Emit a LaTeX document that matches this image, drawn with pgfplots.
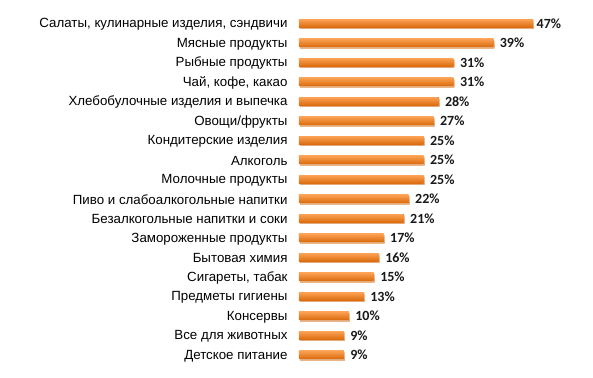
\documentclass[border=0pt]{standalone}
\usepackage{pgfplots}
\pgfplotsset{compat=1.18}
\usepackage{fontspec}
\setmainfont{Liberation Sans}
\newfontfamily\valfont{Carlito}
\definecolor{barTop}{HTML}{FBA052}
\definecolor{barMid}{HTML}{F5801E}
\definecolor{barBot}{HTML}{DA6A0C}
\begin{document}
\begin{tikzpicture}
\useasboundingbox (-299pt,0pt) rectangle (294pt,377pt);
\begin{axis}[
  at={(0,0)}, anchor=south west,
  scale only axis,
  width=289pt, height=376.6pt,
  xbar, bar width=8pt, bar shift=0pt,
  xmin=0, xmax=58,
  ymin=-1.18, ymax=18.13,
  y dir=reverse,
  axis line style={draw=none},
  clip=false,
  ytick={0,...,17},
  yticklabels={{Салаты, кулинарные изделия, сэндвичи},{Мясные продукты},{Рыбные продукты},{Чай, кофе, какао},{Хлебобулочные изделия и выпечка},{Овощи/фрукты},{Кондитерские изделия},{Алкоголь},{Молочные продукты},{Пиво и слабоалкогольные напитки},{Безалкогольные напитки и соки},{Замороженные продукты},{Бытовая химия},{Сигареты, табак},{Предметы гигиены},{Консервы},{Все для животных},{Детское питание}},
  xtick=\empty,
  major tick length=0pt,
  ytick style={draw=none},
  yticklabel style={anchor=east, xshift=-8pt, yshift=-1pt, font=\fontsize{13.3}{15}\selectfont, text=black},
  /pgf/number format/assume math mode=true,
  nodes near coords={\pgfmathprintnumber{\pgfplotspointmeta}\%},
  every node near coord/.append style={anchor=west, xshift=3pt, font=\valfont\bfseries\fontsize{14}{16}\selectfont, text=black!90},
  every axis plot/.append style={draw=none, top color=barTop, middle color=barMid, bottom color=barBot,
    preaction={fill=black!20, opacity=0.5, transform canvas={xshift=1pt, yshift=-1.5pt}}},
]
\addplot[every node near coord/.append style={xshift=-3pt}] coordinates {(47,0)};
\addplot coordinates {(39,1)};
\addplot coordinates {(31,2)};
\addplot coordinates {(31,3)};
\addplot coordinates {(28,4)};
\addplot coordinates {(27,5)};
\addplot coordinates {(25,6)};
\addplot coordinates {(25,7)};
\addplot coordinates {(25,8)};
\addplot coordinates {(22,9)};
\addplot coordinates {(21,10)};
\addplot coordinates {(17,11)};
\addplot coordinates {(16,12)};
\addplot coordinates {(15,13)};
\addplot coordinates {(13,14)};
\addplot coordinates {(10,15)};
\addplot coordinates {(9,16)};
\addplot coordinates {(9,17)};
\end{axis}
\end{tikzpicture}
\end{document}
